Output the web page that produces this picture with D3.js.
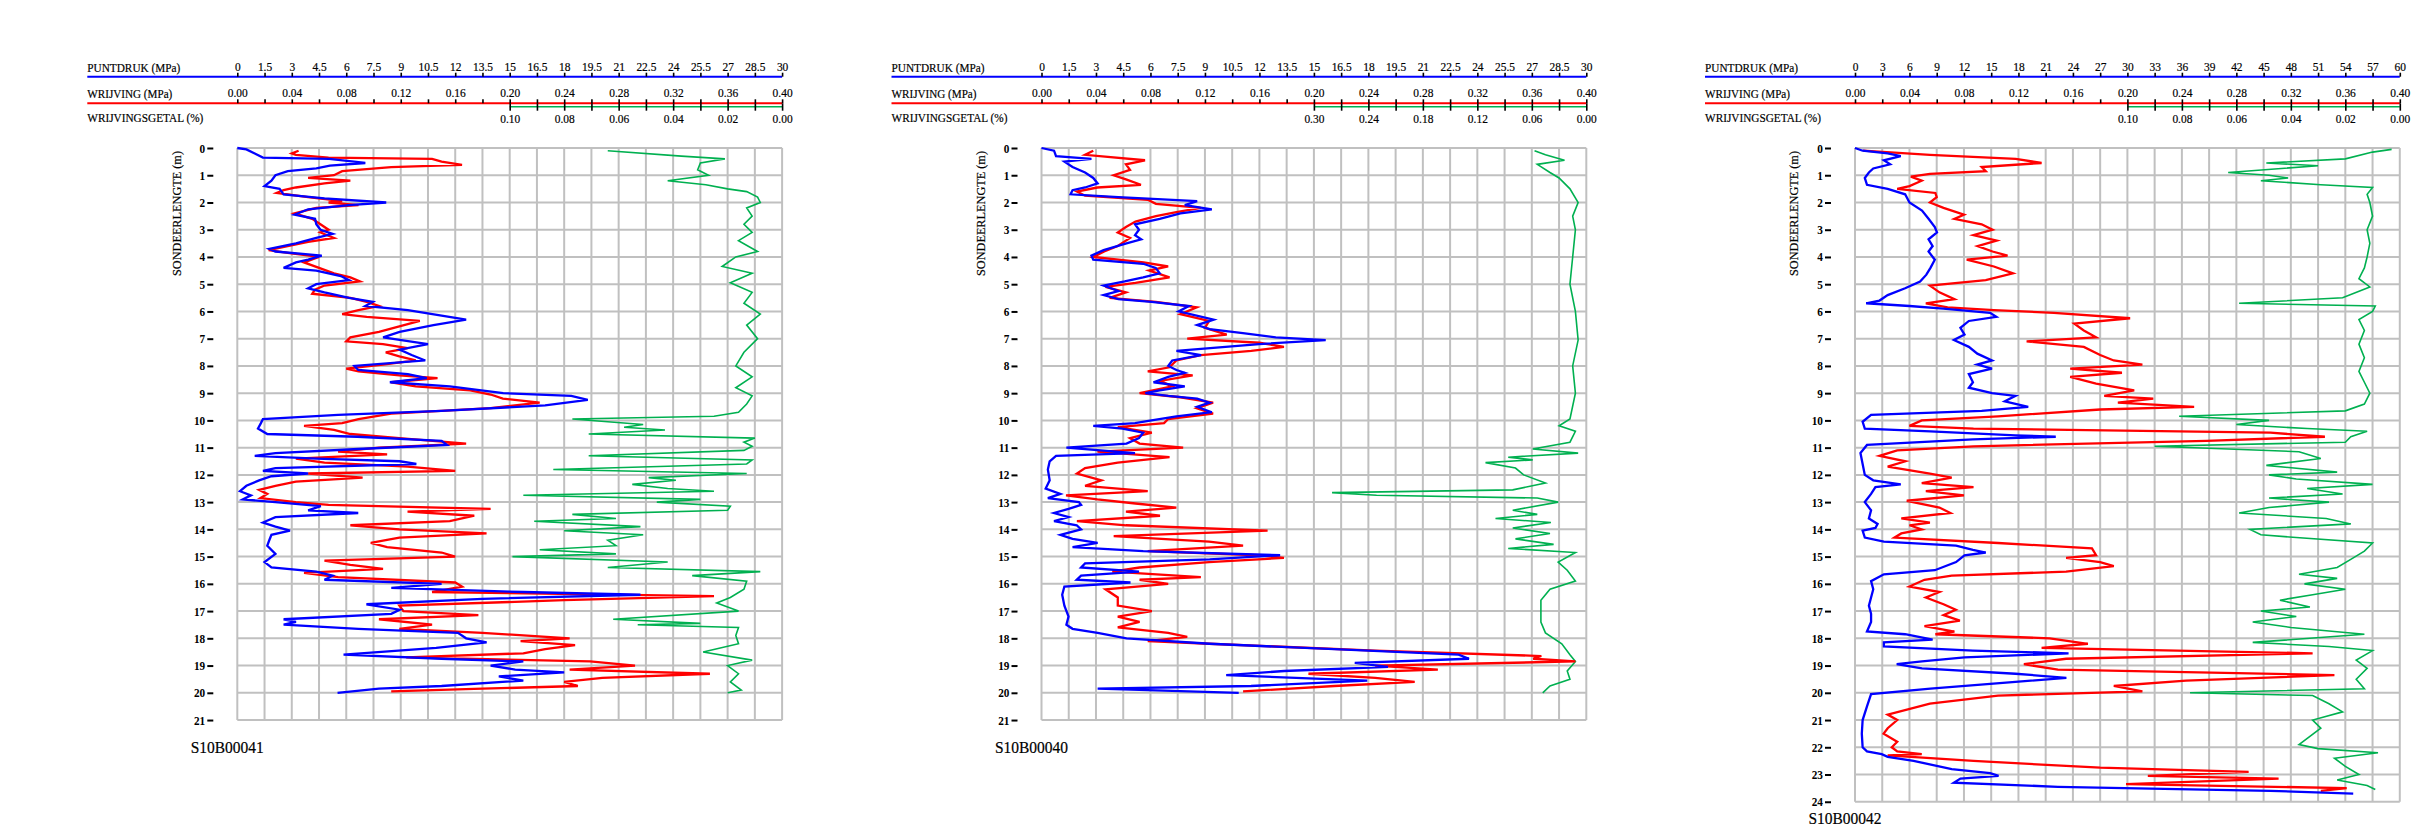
<!DOCTYPE html>
<html>
<head>
<meta charset="utf-8">
<style>
    body {margin: 0; background: #fff;}
    text {font-family: 'Liberation Serif', 'Times New Roman', serif; fill: #000; stroke: #000; stroke-width: 0.2px;}
</style>
</head>
<body>
    <div id='sonderingen'></div>
<script src='https://cdn.jsdelivr.net/npm/d3@7/dist/d3.min.js'></script>
<script>
    // sonderingen, links naar rechts
    var sonderingen = ['S10B00041', 'S10B00040', 'S10B00042'];
    var diepte_max = [21, 21, 24];

    // as-schalen in de kop
    var qc_ticks = [
        [0, 1.5, 3, 4.5, 6, 7.5, 9, 10.5, 12, 13.5, 15, 16.5, 18, 19.5, 21, 22.5, 24, 25.5, 27, 28.5, 30],
        [0, 1.5, 3, 4.5, 6, 7.5, 9, 10.5, 12, 13.5, 15, 16.5, 18, 19.5, 21, 22.5, 24, 25.5, 27, 28.5, 30],
        [0, 3, 6, 9, 12, 15, 18, 21, 24, 27, 30, 33, 36, 39, 42, 45, 48, 51, 54, 57, 60]
    ];
    var fs_ticks = [0, 0.02, 0.04, 0.06, 0.08, 0.10, 0.12, 0.14, 0.16, 0.18, 0.20, 0.22, 0.24, 0.26, 0.28, 0.30, 0.32, 0.34, 0.36, 0.38, 0.40];
    var rf_ticks = [
        [0.10, 0.09, 0.08, 0.07, 0.06, 0.05, 0.04, 0.03, 0.02, 0.01, 0.00],
        [0.30, 0.27, 0.24, 0.21, 0.18, 0.15, 0.12, 0.09, 0.06, 0.03, 0.00],
        [0.10, 0.09, 0.08, 0.07, 0.06, 0.05, 0.04, 0.03, 0.02, 0.01, 0.00]
    ];

    // [diepte (m), waarde]
    var s41_qc = [[0,0],[0.05,0.5],[0.2,0.96],[0.35,1.41],[0.4,5.06],[0.55,7.05],[0.65,5.1],[0.75,4.35],[0.85,2.78],[1,2.1],[1.2,1.88],[1.4,1.5],[1.5,2.33],[1.7,2.55],[1.85,4.8],[2,8.2],[2.1,6.15],[2.25,3.9],[2.45,3.15],[2.6,4.28],[2.8,4.35],[3,4.58],[3.15,5.25],[3.3,4.35],[3.5,3.23],[3.7,1.76],[3.8,2.1],[3.95,4.65],[4.1,3.9],[4.2,3.23],[4.4,2.55],[4.5,4.35],[4.7,5.7],[4.85,6.15],[5,4.35],[5.15,3.9],[5.3,4.8],[5.5,6.15],[5.65,7.46],[5.8,7.05],[5.95,9.39],[6.15,11.25],[6.3,12.6],[6.5,10.8],[6.75,8.94],[6.95,8.03],[7.2,10.5],[7.4,8.94],[7.6,9.6],[7.8,10.35],[8,6.45],[8.15,6.66],[8.3,9.39],[8.45,10.43],[8.6,8.4],[8.75,11.7],[9,14.64],[9.1,18.39],[9.25,19.3],[9.45,16.95],[9.65,11.25],[9.8,5.55],[9.95,1.41],[10.1,1.3],[10.3,1.14],[10.5,1.65],[10.6,6.6],[10.75,11.25],[10.9,11.55],[11.05,6.66],[11.2,2.1],[11.3,0.96],[11.4,4.35],[11.5,8.94],[11.6,9.86],[11.75,2.1],[11.85,1.41],[11.95,3.9],[12.05,1.88],[12.2,1.2],[12.4,0.5],[12.6,0.15],[12.75,0.75],[12.9,0.3],[13,2.1],[13.15,4.6],[13.3,3.9],[13.4,6.66],[13.55,2.1],[13.75,1.41],[13.9,2.1],[14.05,2.9],[14.2,1.88],[14.4,1.76],[14.6,1.65],[14.9,2.1],[15.2,1.5],[15.4,1.88],[15.55,4.35],[15.7,5.25],[15.85,4.8],[16,11.25],[16.15,8.48],[16.3,15.75],[16.4,22.2],[16.55,13.5],[16.75,7.11],[16.95,8.94],[17.1,8.48],[17.3,2.55],[17.4,3.23],[17.5,2.55],[17.65,6.66],[17.8,12.15],[18,12.6],[18.15,13.73],[18.35,10.95],[18.6,5.85],[18.75,11.25],[18.85,15.75],[19,13.95],[19.15,15.3],[19.25,18],[19.4,14.4],[19.55,15.75],[19.75,11.25],[19.85,7.8],[20,5.52]];
    var s41_fs = [[0.1,0.045],[0.2,0.04],[0.25,0.043],[0.35,0.067],[0.4,0.143],[0.5,0.15],[0.62,0.165],[0.7,0.113],[0.85,0.077],[1,0.071],[1.1,0.052],[1.2,0.083],[1.3,0.064],[1.45,0.043],[1.55,0.034],[1.65,0.029],[1.8,0.052],[1.95,0.077],[2,0.067],[2.1,0.089],[2.2,0.058],[2.4,0.042],[2.6,0.055],[2.8,0.061],[3,0.067],[3.1,0.061],[3.3,0.071],[3.45,0.052],[3.6,0.037],[3.75,0.023],[3.85,0.037],[4,0.06],[4.2,0.049],[4.4,0.06],[4.6,0.071],[4.75,0.083],[4.9,0.09],[5.05,0.064],[5.2,0.057],[5.35,0.055],[5.5,0.083],[5.65,0.095],[5.8,0.104],[5.95,0.089],[6.1,0.077],[6.2,0.095],[6.35,0.134],[6.55,0.119],[6.75,0.104],[6.95,0.083],[7.1,0.08],[7.2,0.107],[7.35,0.125],[7.5,0.109],[7.65,0.119],[7.8,0.131],[7.95,0.107],[8.1,0.08],[8.2,0.089],[8.35,0.119],[8.45,0.147],[8.6,0.113],[8.75,0.131],[8.9,0.171],[9.05,0.186],[9.2,0.195],[9.35,0.222],[9.55,0.186],[9.75,0.113],[9.95,0.089],[10.1,0.077],[10.2,0.049],[10.35,0.071],[10.5,0.083],[10.65,0.119],[10.85,0.168],[11,0.104],[11.15,0.074],[11.25,0.11],[11.4,0.043],[11.55,0.064],[11.7,0.125],[11.85,0.16],[11.95,0.052],[12.1,0.092],[12.25,0.043],[12.4,0.028],[12.55,0.016],[12.7,0.022],[12.85,0.017],[13,0.043],[13.1,0.067],[13.25,0.186],[13.35,0.125],[13.5,0.174],[13.7,0.156],[13.85,0.083],[14,0.119],[14.15,0.183],[14.3,0.119],[14.5,0.098],[14.65,0.11],[14.85,0.15],[15,0.16],[15.15,0.064],[15.3,0.083],[15.45,0.107],[15.6,0.049],[15.75,0.074],[15.95,0.16],[16.1,0.165],[16.3,0.143],[16.45,0.35],[16.6,0.24],[16.8,0.119],[17,0.122],[17.15,0.177],[17.3,0.104],[17.5,0.143],[17.65,0.119],[17.8,0.18],[18,0.244],[18.1,0.208],[18.25,0.248],[18.4,0.226],[18.55,0.21],[18.7,0.124],[18.85,0.259],[19,0.292],[19.15,0.244],[19.3,0.347],[19.45,0.268],[19.6,0.24],[19.75,0.25],[19.85,0.18],[19.95,0.113]];
    var s41_rf = [[0.1,0.064],[0.3,0.037],[0.4,0.021],[0.55,0.03],[0.8,0.031],[1,0.027],[1.2,0.042],[1.35,0.028],[1.5,0.02],[1.6,0.013],[1.8,0.009],[2,0.008],[2.2,0.013],[2.5,0.011],[2.8,0.014],[3.1,0.011],[3.4,0.016],[3.8,0.009],[4,0.017],[4.35,0.022],[4.6,0.011],[4.95,0.019],[5.3,0.011],[5.7,0.014],[6.1,0.008],[6.5,0.013],[7,0.009],[7.5,0.014],[8,0.017],[8.4,0.011],[8.8,0.017],[9.1,0.011],[9.4,0.013],[9.7,0.016],[9.85,0.025],[9.95,0.077],[10.15,0.051],[10.25,0.058],[10.35,0.043],[10.5,0.071],[10.65,0.01],[10.8,0.014],[10.95,0.011],[11.1,0.014],[11.3,0.071],[11.45,0.011],[11.6,0.013],[11.8,0.084],[11.95,0.013],[12.1,0.049],[12.2,0.039],[12.35,0.055],[12.5,0.042],[12.6,0.025],[12.75,0.095],[12.9,0.03],[13,0.046],[13.15,0.019],[13.3,0.02],[13.45,0.077],[13.6,0.061],[13.7,0.091],[13.9,0.052],[14.05,0.08],[14.2,0.051],[14.4,0.064],[14.6,0.061],[14.75,0.089],[14.9,0.061],[15,0.099],[15.2,0.042],[15.4,0.064],[15.55,0.008],[15.7,0.033],[15.9,0.013],[16.2,0.014],[16.5,0.019],[16.7,0.024],[17,0.016],[17.3,0.062],[17.45,0.03],[17.5,0.053],[17.6,0.016],[17.9,0.017],[18.2,0.016],[18.5,0.029],[18.8,0.011],[19,0.02],[19.3,0.016],[19.6,0.019],[19.9,0.015],[20,0.02]];

    var s40_qc = [[0,0],[0.1,0.69],[0.3,0.8],[0.4,2.75],[0.5,1.26],[0.7,1.71],[0.9,2.4],[1.1,2.85],[1.3,3.09],[1.45,2.4],[1.55,1.71],[1.7,1.6],[1.8,4.23],[1.95,8.57],[2.1,7.89],[2.25,9.38],[2.4,7.65],[2.6,6.51],[2.8,5.15],[3,5.37],[3.2,5.15],[3.35,5.49],[3.5,4.68],[3.75,3.42],[3.95,2.75],[4.1,2.85],[4.25,5.6],[4.4,6.29],[4.6,6.51],[4.75,5.6],[4.9,4.58],[5.05,3.42],[5.25,4.23],[5.4,3.42],[5.55,4.23],[5.65,6.06],[5.8,8.12],[6,7.55],[6.3,9.48],[6.5,8.57],[6.65,9.26],[6.8,11.09],[6.95,12.9],[7.05,15.65],[7.2,11.99],[7.45,7.43],[7.6,8.79],[7.8,7.2],[8,6.98],[8.15,7.43],[8.25,7.89],[8.4,6.98],[8.6,6.17],[8.75,7.89],[8.9,6.51],[9,5.72],[9.1,6.98],[9.2,8.57],[9.35,9.26],[9.5,8.57],[9.7,9.38],[9.85,7.43],[10,6.06],[10.1,5.15],[10.2,2.85],[10.3,4.46],[10.45,5.6],[10.65,5.37],[10.85,4.68],[10.95,2.4],[11,1.37],[11.2,5.15],[11.3,0.8],[11.5,0.45],[11.8,0.35],[12.2,0.45],[12.5,0.23],[12.7,1.04],[12.85,0.35],[13,2.06],[13.1,2.18],[13.25,1.49],[13.4,0.69],[13.55,1.49],[13.7,0.69],[13.85,1.94],[14,2.18],[14.2,1.04],[14.35,1.71],[14.5,3.09],[14.65,1.71],[14.8,5.6],[14.95,13.14],[15.1,9.26],[15.25,2.4],[15.4,2.18],[15.55,5.37],[15.7,2.18],[15.85,1.94],[15.95,4.9],[16.1,1.26],[16.4,1.14],[16.8,1.26],[17.2,1.49],[17.5,1.37],[17.65,1.71],[17.8,3.09],[18,4.68],[18.2,9.26],[18.4,16.11],[18.6,22.97],[18.75,23.54],[18.9,17.25],[19.05,19.08],[19.2,13.37],[19.35,10.17],[19.55,17.94],[19.75,11.54],[19.85,3.09],[20,10.86]];
    var s40_fs = [[0.1,0.038],[0.25,0.032],[0.45,0.076],[0.6,0.062],[0.8,0.065],[1,0.053],[1.15,0.062],[1.35,0.073],[1.45,0.041],[1.6,0.026],[1.75,0.032],[1.9,0.078],[2.05,0.084],[2.2,0.117],[2.35,0.099],[2.5,0.084],[2.7,0.069],[2.9,0.062],[3.1,0.056],[3.3,0.065],[3.6,0.056],[3.8,0.046],[4,0.038],[4.2,0.075],[4.35,0.093],[4.5,0.079],[4.75,0.094],[4.95,0.069],[5.1,0.047],[5.3,0.062],[5.5,0.05],[5.65,0.084],[5.85,0.114],[6.1,0.102],[6.35,0.123],[6.6,0.12],[6.85,0.136],[7,0.107],[7.15,0.16],[7.3,0.178],[7.45,0.154],[7.6,0.117],[7.8,0.099],[8.05,0.094],[8.2,0.078],[8.35,0.111],[8.55,0.087],[8.75,0.096],[9,0.072],[9.15,0.102],[9.35,0.126],[9.55,0.114],[9.75,0.126],[9.95,0.093],[10.1,0.09],[10.25,0.056],[10.45,0.081],[10.65,0.065],[10.85,0.072],[11,0.104],[11.15,0.041],[11.35,0.094],[11.55,0.056],[11.75,0.032],[11.95,0.026],[12.2,0.044],[12.4,0.032],[12.6,0.078],[12.75,0.018],[12.9,0.041],[13.05,0.069],[13.2,0.099],[13.35,0.062],[13.5,0.087],[13.7,0.026],[13.85,0.062],[14.05,0.166],[14.25,0.053],[14.45,0.123],[14.6,0.148],[14.8,0.078],[14.95,0.16],[15.05,0.178],[15.2,0.123],[15.4,0.072],[15.55,0.052],[15.75,0.117],[15.85,0.072],[16,0.093],[16.2,0.047],[16.5,0.056],[16.8,0.056],[17,0.081],[17.2,0.056],[17.4,0.072],[17.6,0.056],[17.8,0.093],[17.95,0.107],[18.1,0.078],[18.2,0.123],[18.45,0.245],[18.65,0.367],[18.75,0.361],[18.85,0.392],[19,0.245],[19.15,0.291],[19.3,0.196],[19.45,0.245],[19.6,0.274],[19.75,0.215],[19.95,0.148]];
    var s40_rf = [[0.1,0.057],[0.25,0.045],[0.45,0.024],[0.6,0.054],[0.9,0.04],[1.1,0.03],[1.5,0.018],[2,0.009],[2.5,0.015],[3,0.012],[4,0.015],[5,0.018],[6,0.012],[7.05,0.009],[8,0.015],[9,0.012],[9.95,0.018],[10.2,0.03],[10.4,0.012],[10.8,0.018],[11.05,0.059],[11.2,0.009],[11.35,0.086],[11.45,0.059],[11.55,0.111],[11.75,0.078],[12,0.069],[12.3,0.045],[12.55,0.081],[12.65,0.28],[12.75,0.231],[12.85,0.054],[13,0.031],[13.3,0.081],[13.45,0.054],[13.6,0.1],[13.75,0.039],[13.95,0.081],[14.15,0.04],[14.35,0.078],[14.55,0.036],[14.7,0.086],[14.85,0.012],[15.2,0.031],[15.5,0.021],[15.9,0.012],[16.2,0.04],[16.6,0.05],[17,0.05],[17.4,0.05],[17.8,0.045],[18.2,0.027],[18.6,0.018],[18.85,0.012],[19.2,0.021],[19.5,0.018],[19.75,0.04],[20,0.048]];

    var s42_qc = [[0,0],[0.1,0.84],[0.2,3.6],[0.3,5.04],[0.45,3.18],[0.6,3.87],[0.75,2.01],[0.9,1.53],[1.1,1.08],[1.35,1.32],[1.5,3.6],[1.7,5.52],[2,6],[2.3,7.38],[2.6,8.1],[2.9,8.79],[3.1,9.03],[3.35,8.1],[3.6,8.55],[3.8,8.1],[4.1,8.79],[4.4,8.31],[4.65,7.86],[4.9,7.17],[5.15,5.52],[5.4,3.6],[5.6,2.7],[5.7,1.23],[5.8,6],[5.9,9.72],[6.05,14.88],[6.2,15.57],[6.35,12.54],[6.6,11.61],[6.85,12.06],[7.05,10.89],[7.3,12.54],[7.55,13.47],[7.8,15.09],[7.95,13.47],[8.1,15.09],[8.3,12.54],[8.6,12.99],[8.8,12.54],[9,15.09],[9.1,17.67],[9.3,16.5],[9.5,19.08],[9.65,13.95],[9.8,1.77],[10.05,0.84],[10.3,1.08],[10.4,8.31],[10.55,17.67],[10.6,22.11],[10.7,12.99],[10.9,1.32],[11.2,0.6],[11.6,0.84],[12,1.08],[12.2,2.01],[12.35,5.04],[12.45,2.25],[12.7,1.77],[13,1.08],[13.3,1.77],[13.6,1.53],[13.8,2.49],[13.95,2.25],[14.05,0.84],[14.3,1.08],[14.45,3.18],[14.6,11.13],[14.75,12.99],[14.85,14.4],[14.95,12.06],[15.2,11.13],[15.5,8.79],[15.65,3.18],[15.9,1.77],[16.2,2.01],[16.5,1.77],[16.8,1.53],[17.1,1.77],[17.4,1.77],[17.75,1.32],[17.85,5.52],[18.05,8.55],[18.15,3.18],[18.3,3.18],[18.45,12.99],[18.55,23.52],[18.7,12.06],[18.85,7.38],[18.95,4.59],[19.1,7.38],[19.3,17.67],[19.45,23.28],[19.6,17.67],[19.85,8.31],[20.05,1.77],[20.5,1.32],[21,0.84],[21.5,0.75],[22,0.84],[22.15,1.32],[22.25,2.94],[22.35,3.6],[22.5,6.45],[22.8,10.65],[22.95,14.88],[23.05,15.81],[23.15,11.61],[23.3,10.89],[23.45,22.35],[23.6,45.75],[23.7,54.87]];
    var s42_fs = [[0.1,0.006],[0.25,0.055],[0.4,0.118],[0.55,0.137],[0.7,0.093],[0.85,0.096],[0.95,0.055],[1.05,0.041],[1.2,0.049],[1.4,0.04],[1.5,0.031],[1.65,0.059],[1.8,0.06],[2,0.055],[2.2,0.065],[2.45,0.08],[2.6,0.073],[2.8,0.093],[3,0.101],[3.2,0.087],[3.4,0.104],[3.6,0.09],[3.8,0.101],[3.95,0.112],[4.1,0.082],[4.35,0.102],[4.6,0.116],[4.85,0.096],[5.05,0.055],[5.3,0.062],[5.55,0.073],[5.7,0.052],[5.85,0.068],[5.95,0.102],[6.05,0.146],[6.25,0.202],[6.45,0.161],[6.7,0.168],[6.95,0.177],[7.1,0.126],[7.3,0.168],[7.6,0.18],[7.8,0.19],[7.95,0.211],[8.1,0.158],[8.25,0.196],[8.4,0.158],[8.65,0.177],[8.9,0.205],[9.1,0.183],[9.2,0.219],[9.35,0.193],[9.5,0.249],[9.6,0.18],[9.85,0.105],[10,0.049],[10.2,0.04],[10.3,0.087],[10.45,0.305],[10.6,0.345],[10.75,0.258],[10.95,0.087],[11.1,0.031],[11.3,0.018],[11.5,0.037],[11.7,0.024],[11.95,0.055],[12.1,0.071],[12.3,0.049],[12.45,0.087],[12.6,0.052],[12.75,0.08],[12.95,0.038],[13.2,0.062],[13.4,0.07],[13.6,0.034],[13.75,0.055],[13.85,0.04],[14,0.049],[14.15,0.034],[14.3,0.029],[14.5,0.105],[14.7,0.174],[14.95,0.177],[15.05,0.155],[15.2,0.18],[15.35,0.19],[15.55,0.155],[15.7,0.071],[15.85,0.051],[16.1,0.04],[16.3,0.062],[16.5,0.052],[16.75,0.065],[16.95,0.074],[17.15,0.065],[17.35,0.077],[17.55,0.051],[17.75,0.073],[17.85,0.059],[18,0.143],[18.2,0.171],[18.35,0.137],[18.55,0.336],[18.75,0.155],[18.95,0.124],[19.15,0.149],[19.35,0.352],[19.55,0.243],[19.75,0.19],[19.95,0.211],[20.1,0.105],[20.4,0.055],[20.8,0.024],[21,0.031],[21.3,0.024],[21.5,0.021],[21.8,0.031],[22,0.027],[22.15,0.031],[22.25,0.049],[22.3,0.024],[22.5,0.087],[22.75,0.18],[22.9,0.289],[23.05,0.215],[23.15,0.311],[23.35,0.199],[23.5,0.361],[23.6,0.342]];
    var s42_rf = [[0.05,0.003],[0.15,0.01],[0.4,0.02],[0.55,0.049],[0.65,0.03],[0.9,0.063],[1,0.048],[1.1,0.041],[1.2,0.051],[1.35,0.029],[1.45,0.01],[1.7,0.012],[2,0.011],[2.5,0.01],[3,0.012],[3.5,0.011],[4,0.012],[4.4,0.013],[4.8,0.015],[5.1,0.011],[5.5,0.021],[5.7,0.059],[5.8,0.009],[6,0.01],[6.3,0.015],[6.7,0.013],[7.2,0.015],[7.7,0.013],[8.2,0.015],[8.6,0.013],[9,0.011],[9.4,0.013],[9.65,0.02],[9.85,0.081],[10,0.048],[10.15,0.06],[10.3,0.034],[10.4,0.012],[10.6,0.018],[10.8,0.02],[10.95,0.09],[11.15,0.037],[11.4,0.029],[11.65,0.049],[11.9,0.023],[12,0.048],[12.15,0.038],[12.35,0.01],[12.5,0.034],[12.7,0.021],[12.85,0.048],[13,0.026],[13.2,0.048],[13.4,0.059],[13.6,0.027],[13.8,0.018],[14,0.055],[14.2,0.051],[14.3,0.038],[14.5,0.01],[14.8,0.013],[15.1,0.018],[15.4,0.023],[15.65,0.037],[15.8,0.023],[16,0.035],[16.2,0.02],[16.4,0.032],[16.6,0.044],[16.85,0.033],[17,0.051],[17.2,0.038],[17.4,0.054],[17.6,0.04],[17.85,0.013],[18.15,0.054],[18.3,0.026],[18.45,0.01],[18.8,0.016],[19.1,0.012],[19.5,0.016],[19.85,0.013],[20,0.077],[20.1,0.032],[20.4,0.026],[20.7,0.021],[21,0.032],[21.3,0.029],[21.6,0.033],[21.9,0.037],[22.05,0.03],[22.2,0.008],[22.4,0.024],[22.7,0.02],[23,0.015],[23.2,0.023],[23.4,0.012],[23.55,0.009]];

    var qc_data = [s41_qc, s40_qc, s42_qc],
        fs_data = [s41_fs, s40_fs, s42_fs],
        rf_data = [s41_rf, s40_rf, s42_rf];

    var width = 2427,
        height = 828;

    var grid_top = 148,
        cell = 27.24,
        panel_left = [237.3, 1041.5, 1855];

    var blue = '#0000ff', red = '#ff0000', green = '#00b050', grid_grey = '#c0c0c0';

    var svg = d3.select('#sonderingen')
        .append('svg')
        .attr('width', width)
        .attr('height', height);

    function fmt_qc(d){ return d % 1 == 0 ? d : d.toFixed(1) }

    function draw_sondering(i){
        var gx = panel_left[i],
            gw = 20 * cell,
            gh = diepte_max[i] * cell;

        var x_qc = d3.scaleLinear().domain([0, qc_ticks[i][20]]).range([gx, gx + gw]);
        var x_fs = d3.scaleLinear().domain([0, fs_ticks[20]]).range([gx, gx + gw]);
        var x_rf = d3.scaleLinear().domain([rf_ticks[i][0] * 2, 0]).range([gx, gx + gw]);
        var y = d3.scaleLinear().domain([0, diepte_max[i]]).range([grid_top, grid_top + gh]);

        var g = svg.append('g').attr('class', 'sondering');

        // raster
        g.append('g').selectAll('line')
            .data(qc_ticks[i])
            .join('line')
            .attr('x1', function(d){return x_qc(d)}).attr('x2', function(d){return x_qc(d)})
            .attr('y1', grid_top).attr('y2', grid_top + gh)
            .style('stroke', grid_grey).style('stroke-width', 2);

        g.append('g').selectAll('line')
            .data(d3.range(diepte_max[i] + 1))
            .join('line')
            .attr('x1', gx).attr('x2', gx + gw)
            .attr('y1', function(d){return y(d)}).attr('y2', function(d){return y(d)})
            .style('stroke', grid_grey).style('stroke-width', 2);

        // kop: puntdruk
        g.append('line')
            .attr('x1', gx - 150).attr('x2', gx + gw).attr('y1', 76.7).attr('y2', 76.7)
            .style('stroke', blue).style('stroke-width', 2);
        g.append('text')
            .attr('x', gx - 150).attr('y', 71.5)
            .attr('textLength', 93).attr('lengthAdjust', 'spacingAndGlyphs')
            .style('font-size', '13px')
            .text('PUNTDRUK (MPa)');
        var qc_axis = g.append('g')
            .attr('transform', 'translate(0,76.7)')
            .call(d3.axisTop(x_qc).tickValues(qc_ticks[i]).tickFormat(fmt_qc).tickSize(4).tickPadding(2).tickSizeOuter(0));

        // kop: wrijving
        g.append('line')
            .attr('x1', gx - 150).attr('x2', gx + gw).attr('y1', 103.3).attr('y2', 103.3)
            .style('stroke', red).style('stroke-width', 2);
        g.append('text')
            .attr('x', gx - 150).attr('y', 98)
            .attr('textLength', 85).attr('lengthAdjust', 'spacingAndGlyphs')
            .style('font-size', '13px')
            .text('WRIJVING (MPa)');
        var fs_axis = g.append('g')
            .attr('transform', 'translate(0,103.3)')
            .call(d3.axisTop(x_fs).tickValues(fs_ticks)
                .tickFormat(function(d, j){return j % 2 ? '' : d.toFixed(2)})
                .tickSize(4).tickPadding(2).tickSizeOuter(0));

        // kop: wrijvingsgetal
        g.append('line')
            .attr('x1', x_rf(rf_ticks[i][0])).attr('x2', gx + gw).attr('y1', 106.7).attr('y2', 106.7)
            .style('stroke', green).style('stroke-width', 1.6);
        g.append('text')
            .attr('x', gx - 150).attr('y', 121.5)
            .attr('textLength', 116).attr('lengthAdjust', 'spacingAndGlyphs')
            .style('font-size', '13px')
            .text('WRIJVINGSGETAL (%)');
        var rf_axis = g.append('g')
            .attr('transform', 'translate(0,106.7)')
            .call(d3.axisBottom(x_rf).tickValues(rf_ticks[i])
                .tickFormat(function(d, j){return j % 2 ? '' : d.toFixed(2)})
                .tickSize(4).tickPadding(2.8).tickSizeOuter(0));
        rf_axis.selectAll('.tick line').attr('y1', -3.4);

        [qc_axis, fs_axis, rf_axis].forEach(function(a){
            a.attr('font-family', null).attr('font-size', null);
            a.select('.domain').remove();
            a.selectAll('.tick line').style('stroke-width', 1.6);
            a.selectAll('.tick text').style('font-size', '13px').attr('transform', 'scale(0.88,1)');
        });

        // diepte-as
        var d_axis = g.append('g')
            .attr('transform', 'translate(' + (gx - 24) + ',0)')
            .call(d3.axisLeft(y).tickValues(d3.range(diepte_max[i] + 1)).tickSize(6).tickPadding(3).tickSizeOuter(0));
        d_axis.attr('font-family', null).attr('font-size', null);
        d_axis.select('.domain').remove();
        d_axis.selectAll('.tick line').style('stroke-width', 2);
        d_axis.selectAll('.tick text').style('font-size', '12.5px').style('font-weight', 'bold').style('stroke-width', 0).attr('transform', 'scale(0.9,1)');

        g.append('text')
            .attr('transform', 'translate(' + (gx - 56.6) + ',151) rotate(-90)')
            .attr('text-anchor', 'end')
            .attr('textLength', 125).attr('lengthAdjust', 'spacingAndGlyphs')
            .style('font-size', '12px')
            .text('SONDEERLENGTE (m)');

        // naam onder het raster, niet buiten het beeld
        g.append('text')
            .attr('x', gx - 46.6).attr('y', Math.min(grid_top + gh + 33.4, height - 4))
            .attr('textLength', 73).attr('lengthAdjust', 'spacingAndGlyphs')
            .style('font-size', '17px')
            .text(sonderingen[i]);

        // curves
        var line_qc = d3.line().x(function(d){return x_qc(d[1])}).y(function(d){return y(d[0])});
        var line_fs = d3.line().x(function(d){return x_fs(d[1])}).y(function(d){return y(d[0])});
        var line_rf = d3.line().x(function(d){return x_rf(d[1])}).y(function(d){return y(d[0])});

        g.append('path').datum(rf_data[i]).attr('d', line_rf)
            .style('fill', 'none').style('stroke', green).style('stroke-width', 1.6);
        g.append('path').datum(fs_data[i]).attr('d', line_fs)
            .style('fill', 'none').style('stroke', red).style('stroke-width', 2.3);
        g.append('path').datum(qc_data[i]).attr('d', line_qc)
            .style('fill', 'none').style('stroke', blue).style('stroke-width', 2.3);
    }

    sonderingen.forEach(function(s, i){ draw_sondering(i) });
</script>
</body>
</html>
